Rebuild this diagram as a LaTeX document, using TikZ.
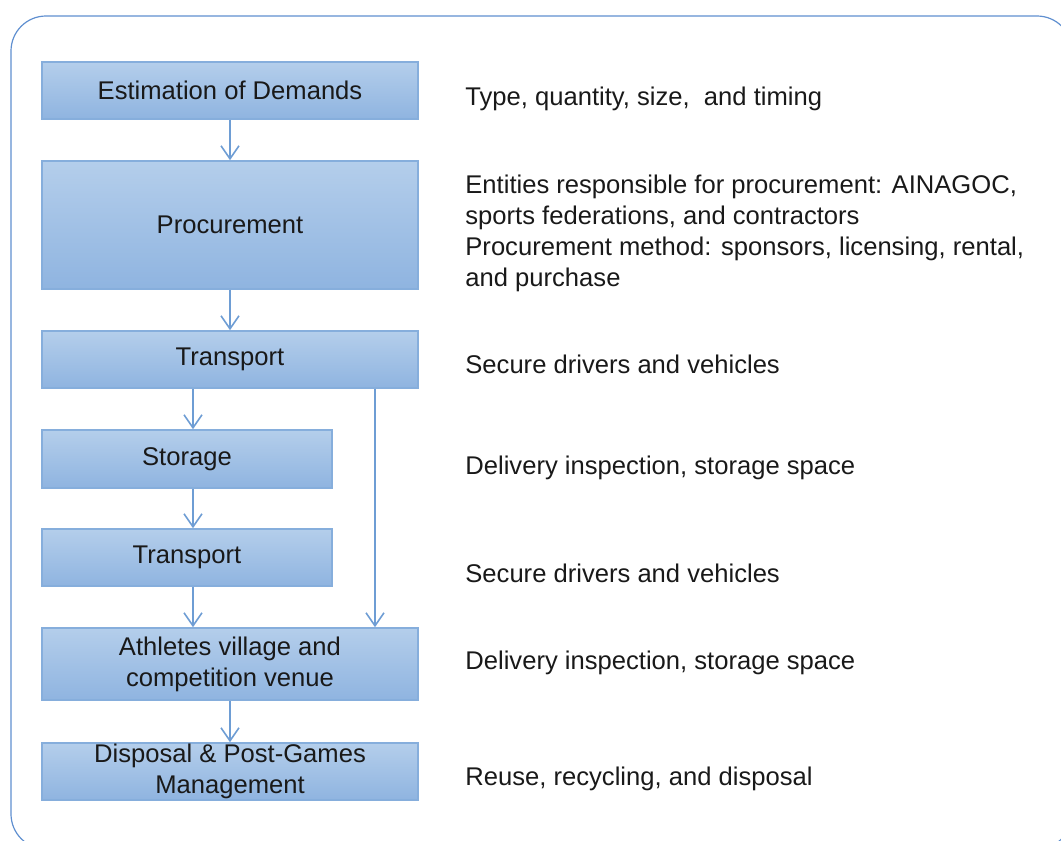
\documentclass[tikz,border=0pt]{standalone}
\usepackage{fontspec}
\setmainfont{Liberation Sans}
\usetikzlibrary{arrows.meta}
\definecolor{boxtop}{HTML}{B4CEEB}
\definecolor{boxbot}{HTML}{8FB4E0}
\definecolor{boxline}{HTML}{86AEDC}
\definecolor{arrowline}{HTML}{6E9DD4}
\definecolor{frameline}{HTML}{5F8FD0}
\begin{document}
\begin{tikzpicture}[x=0.5pt,y=-0.5pt,>={Straight Barb[length=6.5pt,width=9pt]},
  font=\fontsize{12.8}{15.5}\selectfont,
  stage/.style={draw=boxline,line width=0.8pt,top color=boxtop,bottom color=boxbot,
    text=black!90,align=center,inner sep=0pt,minimum width=188pt,minimum height=28.5pt},
  flow/.style={->,draw=arrowline,line width=0.8pt},
  remark/.style={anchor=west,align=left,inner sep=0pt,text=black!90}]
\useasboundingbox (0,0) rectangle (1061,841);
% The outer frame
\begin{scope}
  \clip (0,0) rectangle (1061,841);
  \draw[frameline,line width=0.6pt,rounded corners=17.5pt] (11,16) rectangle (1072,849);
\end{scope}
% The stages
\node[stage] (est) at (230,90.5) {Estimation of Demands};
\node[stage,minimum height=64pt] (proc) at (230,225) {Procurement};
\node[stage] (trans) at (230,359.5) {Transport};
\node[stage,minimum width=145pt,minimum height=29pt] (store) at (187,459) {Storage};
\node[stage,minimum width=145pt] (transb) at (187,557.5) {Transport};
\node[stage,minimum height=36pt] (venue) at (230,664) {Athletes village and\\competition venue};
\node[stage] (disp) at (230,771.5) {Disposal \& Post-Games\\Management};
% The arrows
\coordinate (side) at (375,0);
\draw[flow] (est) -- (proc);
\draw[flow] (proc) -- (trans);
\draw[flow] ([xshift=3pt]store.north |- trans.south) -- ([xshift=3pt]store.north);
\draw[flow] ([xshift=3pt]store.south) -- ([xshift=3pt]transb.north);
\draw[flow] ([xshift=3pt]transb.south) -- ([xshift=3pt]transb.south |- venue.north);
\draw[flow] (trans.south -| side) -- (venue.north -| side);
\draw[flow] (venue) -- (disp);
% The remarks on the right
\node[remark] (r1) at (465,99) {Type, quantity, size, \ and timing};
\node[remark] (r2) at (465,233) {Entities responsible for procurement: AINAGOC,\\sports federations, and contractors\\Procurement method: sponsors, licensing, rental,\\and purchase};
\node[remark] (r3) at (465,364) {Secure drivers and vehicles};
\node[remark] (r4) at (465,468) {Delivery inspection, storage space};
\node[remark] (r5) at (465,573) {Secure drivers and vehicles};
\node[remark] (r6) at (465,663) {Delivery inspection, storage space};
\node[remark] (r7) at (465,779) {Reuse, recycling, and disposal};
\end{tikzpicture}
\end{document}
